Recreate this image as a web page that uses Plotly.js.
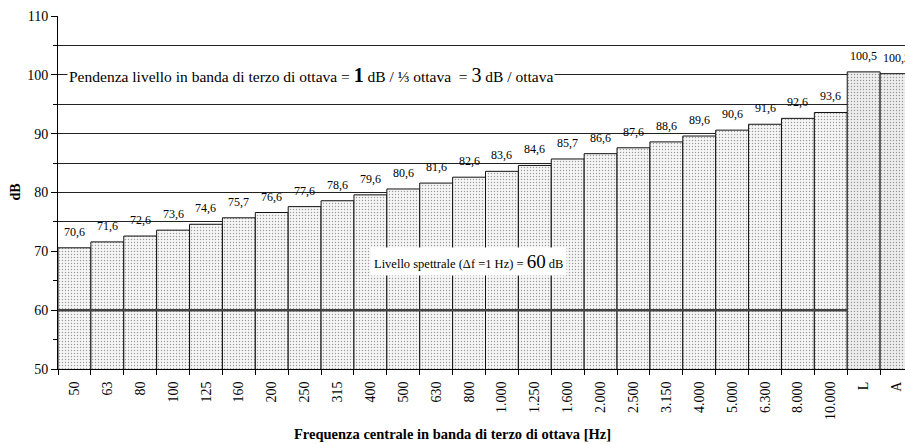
<!DOCTYPE html>
<html><head><meta charset="utf-8">
<script src="https://cdn.plot.ly/plotly-3.0.1.min.js"></script>
<style>html,body{margin:0;padding:0;overflow:hidden;background:#fff;width:905px;height:444px}</style>
</head><body>
<div id="chart" style="width:915px;height:444px"></div>
<script>
const categories = ['50','63','80','100','125','160','200','250','315','400','500','630','800','1.000','1.250','1.600','2.000','2.500','3.150','4.000','5.000','6.300','8.000','10.000','L','A'];
const levels = [70.6,71.6,72.6,73.6,74.6,75.7,76.6,77.6,78.6,79.6,80.6,81.6,82.6,83.6,84.6,85.7,86.6,87.6,88.6,89.6,90.6,91.6,92.6,93.6,100.5,100.2];
const spectralLevel = 60;
const slopeText = 'Pendenza livello in banda di terzo di ottava = <b><span style="font-size:20px">1</span></b> dB / ⅓ ottava  = <span style="font-size:20px">3</span> dB / ottava';
const spectralText = 'Livello spettrale (Δf =1 Hz) = <span style="font-size:19px">60</span> dB';
const xTitle = 'Frequenza centrale in banda di terzo di ottava [Hz]';
const yTitle = 'dB';

const serif = 'Liberation Serif';
const bgCols = categories.map(c => (c === 'L' || c === 'A') ? '#efefef' : '#f7f7f7');
const fgCols = categories.map(c => (c === 'L' || c === 'A') ? '#d8d8d8' : '#e3e3e3');

const trace = {
  type: 'bar', x: categories, y: levels,
  marker: {color: bgCols, line: {color: '#111', width: 1},
    pattern: {shape: '.', fgcolor: fgCols, size: 3, solidity: 0.2, fillmode: 'overlay'}},
  hoverinfo: 'skip'
};

// value labels placed through the category axis (by category index)
const valueLabels = categories.map((c, i) => ({
  text: levels[i].toFixed(1).replace('.', ','), x: i, y: levels[i], xref: 'x', yref: 'y',
  xanchor: 'center', yanchor: 'bottom', yshift: 7, showarrow: false,
  font: {family: serif, size: 12, color: '#000'}
}));

const layout = {
  width: 915, height: 444,
  margin: {l: 58, r: 2, t: 16, b: 75},
  paper_bgcolor: '#fff', plot_bgcolor: '#fff',
  separators: ',.',
  bargap: 0, showlegend: false,
  font: {family: serif, color: '#000'},
  xaxis: {type: 'category', tickson: 'boundaries', ticks: 'outside', ticklen: 5, tickcolor: '#000',
    showline: true, linecolor: '#000', linewidth: 1, showgrid: false, tickangle: -90,
    ticklabelstandoff: 6,
    tickfont: {family: serif, size: 14, color: '#000'}, range: [-0.5, 25.5]},
  yaxis: {range: [50, 110], dtick: 10, ticks: 'outside', ticklen: 6, tickcolor: '#000',
    showline: true, linecolor: '#000', linewidth: 1, showgrid: true, gridcolor: '#222', gridwidth: 1,
    zeroline: false, tickfont: {family: serif, size: 14, color: '#000'},
    minor: {dtick: 5, ticks: 'outside', ticklen: 4, tickcolor: '#000', showgrid: true, gridcolor: '#222', gridwidth: 1}},
  shapes: [
    {type: 'line', xref: 'x', yref: 'y', x0: -0.5, x1: 23.5, y0: spectralLevel, y1: spectralLevel,
     line: {color: '#444', width: 2.5}, layer: 'above'}
  ],
  annotations: valueLabels.concat([
    {text: slopeText, xref: 'paper', yref: 'y', x: 9/855, y: 100, xanchor: 'left', yanchor: 'middle',
     showarrow: false, bgcolor: '#fff', font: {family: serif, size: 15.5, color: '#000'}, borderpad: 1},
    {text: spectralText, xref: 'paper', yref: 'y', x: 312/855, y: 68.2, xanchor: 'left', yanchor: 'middle',
     showarrow: false, bgcolor: '#fff', font: {family: serif, size: 12.5, color: '#000'}, borderpad: 3},
    {text: '<b>' + xTitle + '</b>', xref: 'paper', yref: 'paper', x: 394/855, y: -65/353, xanchor: 'center', yanchor: 'middle',
     showarrow: false, font: {family: serif, size: 14.5, color: '#000'}},
    {text: '<b>' + yTitle + '</b>', xref: 'paper', yref: 'y', x: -43/855, y: 80, xanchor: 'center', yanchor: 'middle',
     textangle: -90, showarrow: false, font: {family: serif, size: 14, color: '#000'}}
  ])
};

Plotly.newPlot('chart', [trace], layout, {staticPlot: true, displayModeBar: false});
</script>
</body></html>
